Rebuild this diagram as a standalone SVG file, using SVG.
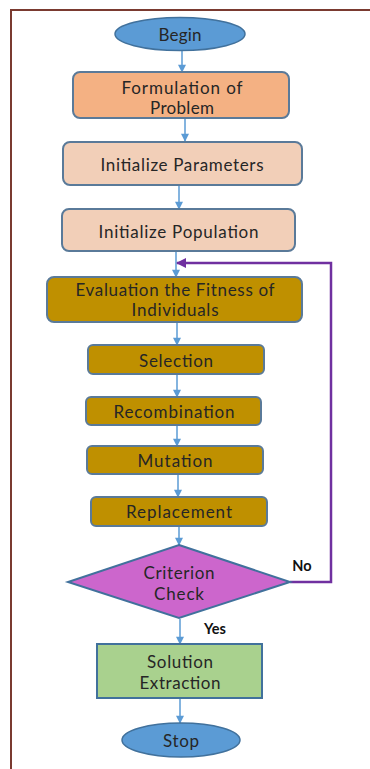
<svg xmlns="http://www.w3.org/2000/svg" width="370" height="769" viewBox="0 0 370 769">
<defs>
<style>
.t{font-family:Lato,"Open Sans","Liberation Sans",sans-serif;font-size:17px;fill:#262626;text-anchor:middle;dominant-baseline:central}
.b{font-weight:bold;fill:#111;font-size:14.5px}
.term{fill:#5b9bd5;stroke:#41719c;stroke-width:1.5}
.box{stroke:#5a7a99;stroke-width:2}
.gold{fill:#bf9000;stroke:#5a7a99;stroke-width:2}
.c{stroke:#5b9bd5;stroke-width:1.5;fill:none;marker-end:url(#ab)}
</style>
<marker id="ab" viewBox="0 0 10 10" refX="9" refY="5" markerWidth="10" markerHeight="8" markerUnits="userSpaceOnUse" orient="auto"><path d="M0,0L10,5L0,10z" fill="#5b9bd5"/></marker>
<marker id="ap" viewBox="0 0 10 10" refX="9" refY="5" markerWidth="12" markerHeight="10" markerUnits="userSpaceOnUse" orient="auto"><path d="M0,0L10,5L0,10z" fill="#7030a0"/></marker>
</defs>
<rect width="370" height="769" fill="#fff"/>
<path d="M11,769V10H370" fill="none" stroke="#7a3a30" stroke-width="2"/>
<g id="connectors">
<path class="c" d="M182,51V72"/>
<path class="c" d="M185,119V141"/>
<path class="c" d="M179,186V209"/>
<path class="c" d="M176,252V277"/>
<path class="c" d="M177,323V345"/>
<path class="c" d="M177,375V397"/>
<path class="c" d="M177,426V446"/>
<path class="c" d="M178,475V497"/>
<path class="c" d="M179,527V545"/>
<path class="c" d="M180,619V644"/>
<path class="c" d="M180,699V723"/>
<path d="M290,582H331V263H177" fill="none" stroke="#7030a0" stroke-width="2.5" marker-end="url(#ap)"/>
<text class="t b" x="302" y="565">No</text>
<text class="t b" x="215" y="628">Yes</text>
</g>
<g id="begin"><ellipse class="term" cx="180" cy="34" rx="65" ry="16.5"/><text class="t" x="180" y="34" textLength="43">Begin</text></g>
<g id="formulation"><rect class="box" x="73" y="72" width="216" height="46" rx="7" fill="#f4b183"/><text class="t" x="182" y="87" textLength="121">Formulation of</text><text class="t" x="182" y="107" textLength="64">Problem</text></g>
<g id="params"><rect class="box" x="63" y="142" width="239" height="43" rx="7" fill="#f2cfb8"/><text class="t" x="182" y="164" textLength="163">Initialize Parameters</text></g>
<g id="population"><rect class="box" x="62" y="209" width="233" height="42" rx="7" fill="#f2cfb8"/><text class="t" x="178.5" y="231" textLength="160">Initialize Population</text></g>
<g id="evaluation"><rect class="gold" x="47" y="277" width="255" height="45" rx="7"/><text class="t" x="175" y="289.5" textLength="199">Evaluation the Fitness of</text><text class="t" x="175" y="309.5" textLength="87">Individuals</text></g>
<g id="selection"><rect class="gold" x="88" y="345" width="176" height="29" rx="5"/><text class="t" x="176" y="360" textLength="74">Selection</text></g>
<g id="recombination"><rect class="gold" x="86" y="397" width="175" height="28" rx="5"/><text class="t" x="174" y="411" textLength="121">Recombination</text></g>
<g id="mutation"><rect class="gold" x="87" y="446" width="176" height="28" rx="5"/><text class="t" x="175" y="460" textLength="75">Mutation</text></g>
<g id="replacement"><rect class="gold" x="91" y="497" width="176" height="29" rx="5"/><text class="t" x="179" y="511" textLength="106">Replacement</text></g>
<g id="criterion"><path d="M179,545L290,582L179,618L68,582Z" fill="#cc66cc" stroke="#41719c" stroke-width="2"/><text class="t" x="179" y="572.5" textLength="71">Criterion</text><text class="t" x="179" y="593" textLength="50">Check</text></g>
<g id="solution"><rect x="97" y="644" width="165" height="54" fill="#a9d18e" stroke="#41719c" stroke-width="2"/><text class="t" x="180" y="661.5" textLength="66">Solution</text><text class="t" x="180" y="682" textLength="81">Extraction</text></g>
<g id="stop"><ellipse class="term" cx="181" cy="740" rx="59" ry="17"/><text class="t" x="181" y="740" textLength="36">Stop</text></g>
</svg>
